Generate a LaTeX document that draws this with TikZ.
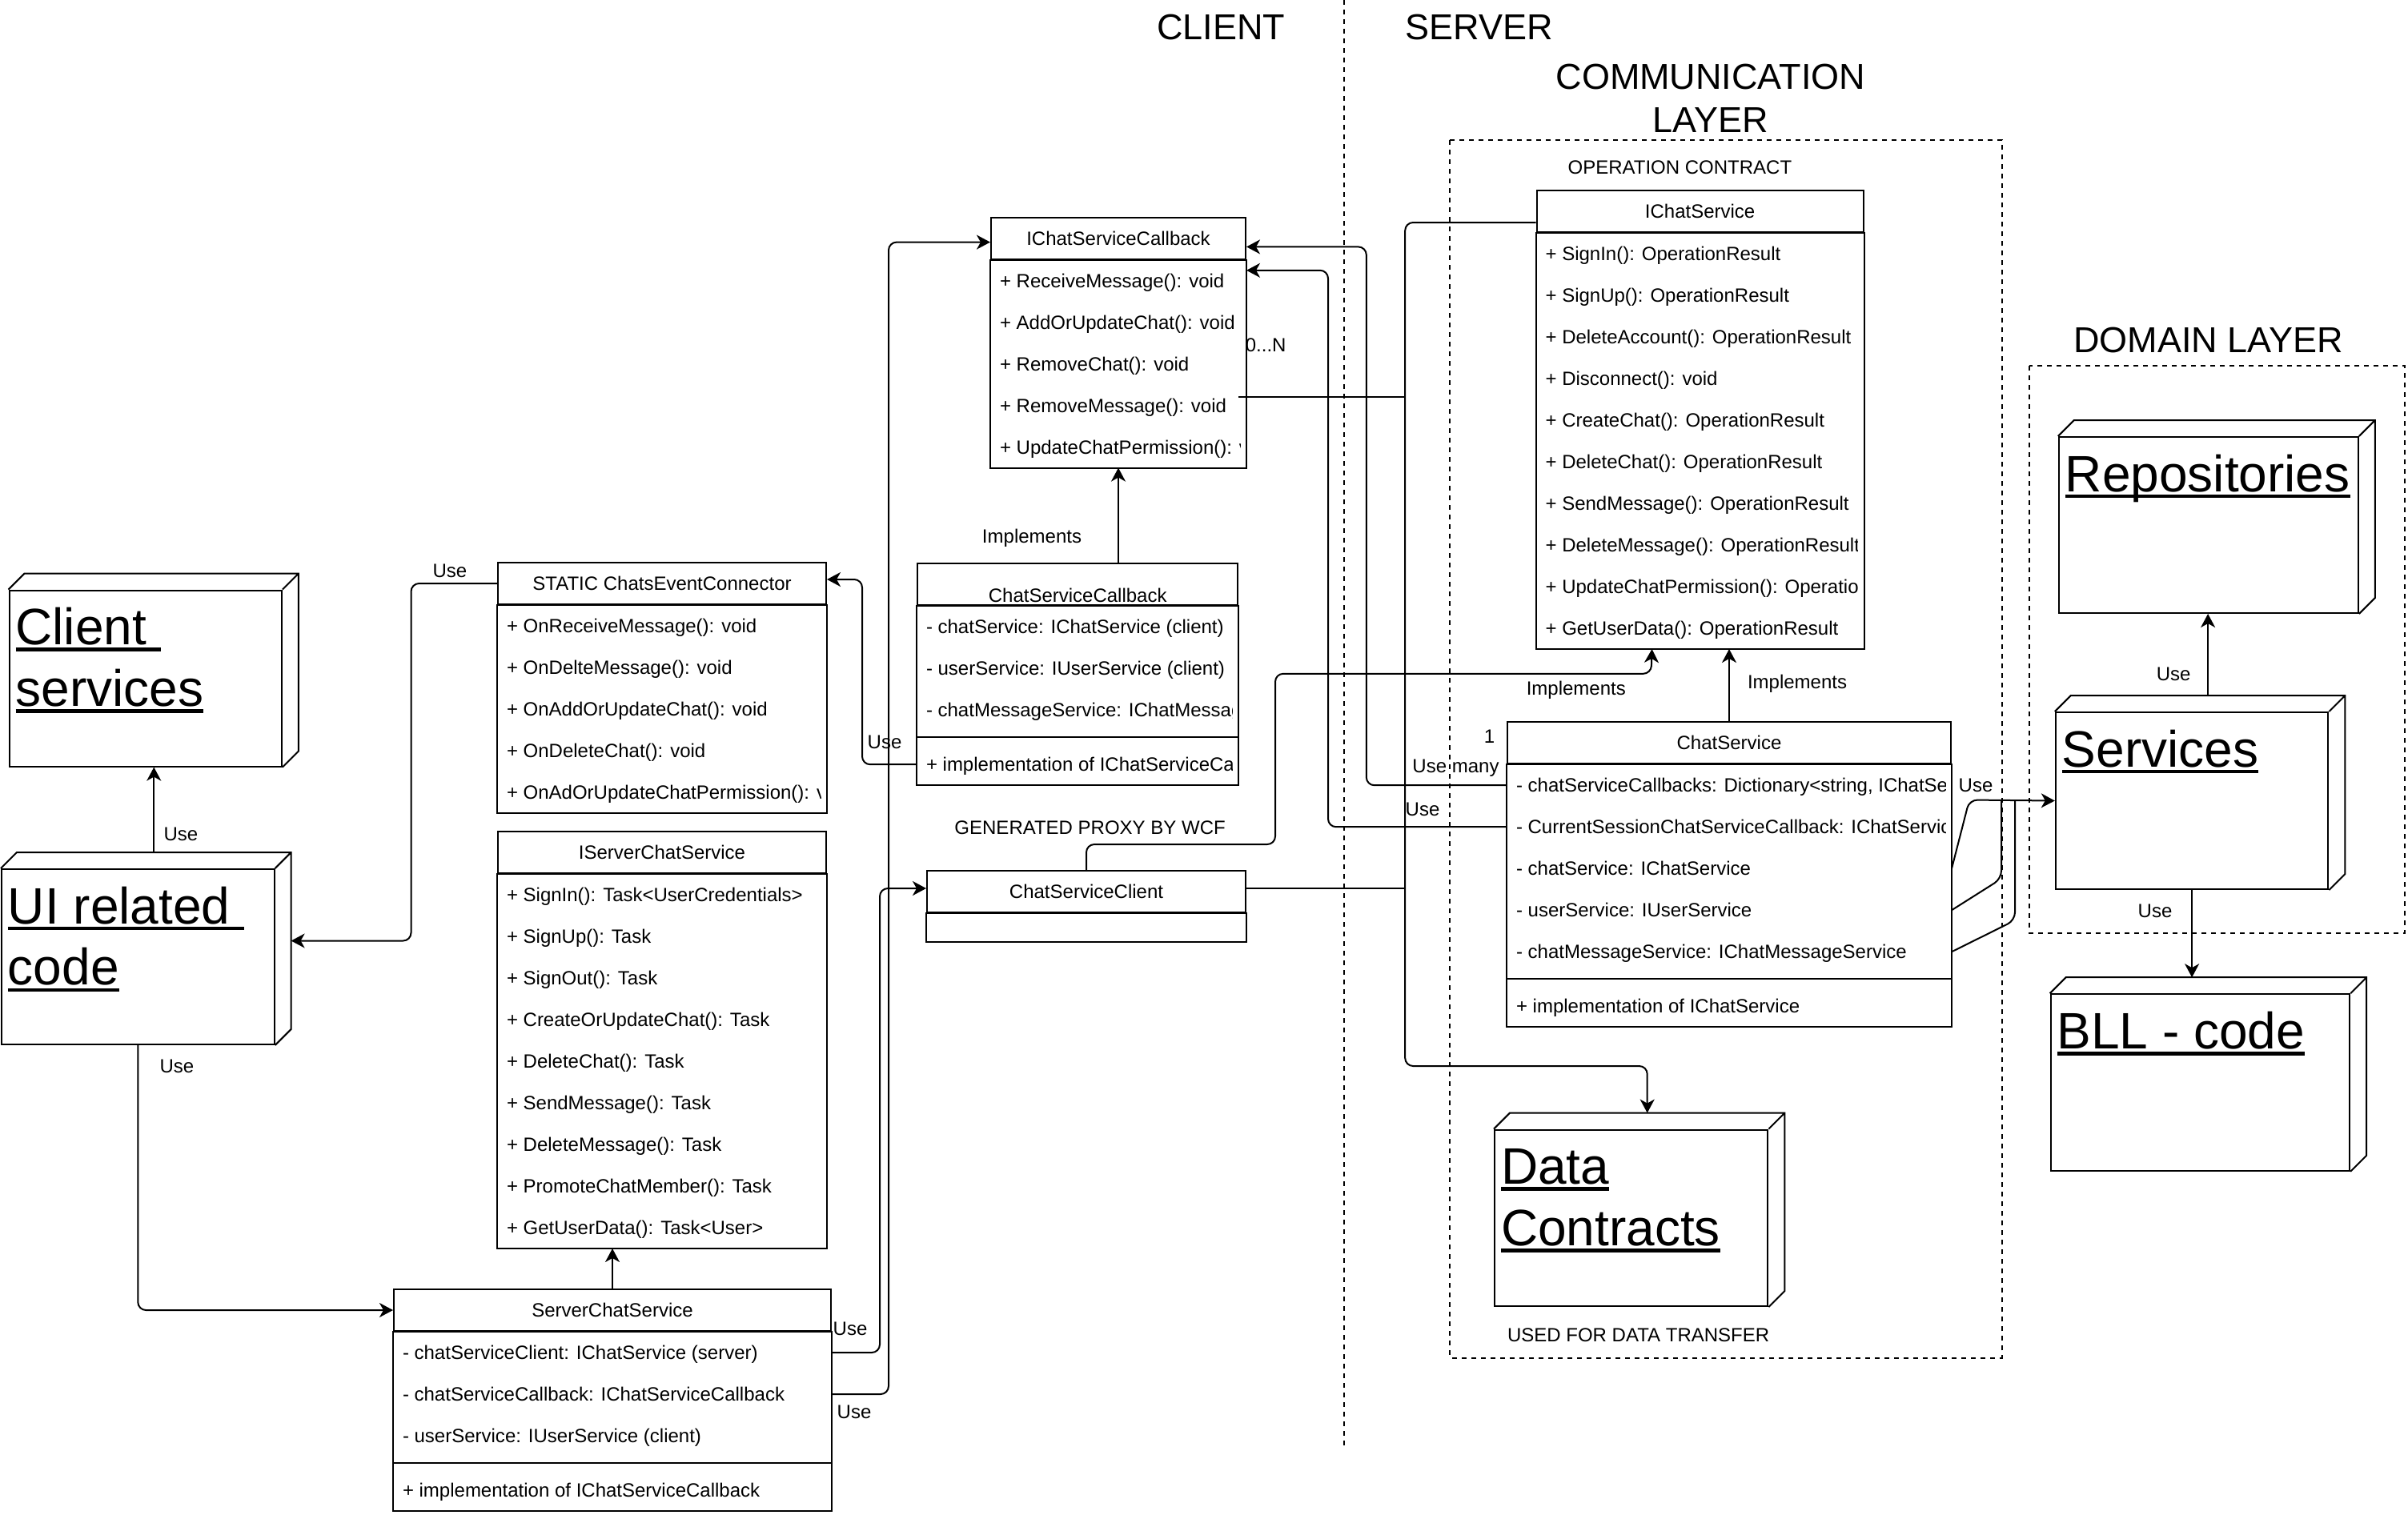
\documentclass[tikz,border=0pt]{standalone}
\usepackage{fontspec}
\setmainfont{Liberation Sans}
\usepackage{tikz}
\usetikzlibrary{arrows.meta}
\tikzset{>={Stealth[length=8.5pt,width=9pt,inset=2.5pt]}}
\tikzset{
	classhead/.style={draw, anchor=north west, minimum height=26pt, inner sep=0pt, text height=8.6pt, text depth=0pt, font=\fontsize{12}{14.4}\selectfont},
	member/.style={anchor=base west, inner sep=0pt, text height=8.6pt, text depth=0pt, font=\fontsize{12}{14.4}\selectfont},
	note/.style={inner sep=0pt, text height=8.6pt, text depth=0pt, font=\fontsize{12}{14.4}\selectfont},
	headline/.style={inner sep=0pt, align=center, font=\fontsize{22.5}{27}\selectfont},
	cubeface/.style={draw, anchor=north west, inner sep=0pt},
	cubelabel/.style={anchor=base west, inner sep=0pt, font=\fontsize{32}{38.4}\selectfont},
	layerbox/.style={draw, dashed},
}
% underlined text
\newcommand{\undl}[1]{\setbox0\hbox{#1}\rlap{\rule[-0.13em]{\wd0}{0.07em}}\box0}
% 3d node: name, front top left, width, height, label
\newcommand{\umlnode}[5]{%
	\node[cubeface, minimum width=#3pt, minimum height=#4pt] (#1) at (#2) {};
	\draw (#1.north west) -- ++(10,-10) -| ([shift={(10,-10)}]#1.south east) -- (#1.south east) (#1.north east) -- ++(10,-10);
	\node[cubelabel] (#1-text) at ([shift={(4,34.5)}]#1.north west) {\begin{tabular}[t]{@{}l@{}}#5\end{tabular}};
}
% class: name, top left, width, title, fields, method
\newcommand{\umlclass}[6]{%
	\node[classhead, minimum width=#3pt] (#1) at (#2) {#4};
	\begin{scope}
		\clip (#1.south west) rectangle ([shift={(-4,600)}]#1.south east);
		\foreach \entry [count=\row] in {#5} {
			\node[member] (#1-\row) at ([shift={(5.5,26*\row-8.7)}]#1.south west) {\entry};
			\coordinate (#1-end) at ([shift={(0,26*\row)}]#1.south east);
		}
	\end{scope}
	\if\relax\detokenize{#6}\relax
		\draw (#1.south west) rectangle (#1-end);
	\else
		\coordinate (#1-sep) at ([shift={(0,4)}]#1-end);
		\coordinate (#1-msw) at (#1-sep -| #1.west);
		\draw (#1.south west) rectangle ([shift={(0,34)}]#1-end);
		\draw (#1-sep) -- (#1-msw);
		\begin{scope}
			\clip (#1-msw) rectangle ([shift={(-4,30)}]#1-sep);
			\node[member] (#1-m) at ([shift={(5.5,21.3)}]#1-msw) {#6};
		\end{scope}
	\fi
}

\begin{document}
\begin{tikzpicture}[x=1pt, y=-1pt, line width=1pt]
		% Canvas
		\fill[white] (0,0) rectangle (1504,946);
		\useasboundingbox (0,0) rectangle (1504,946);

		% Titles
		\node[headline] (client) at (762.5,16.9) {CLIENT};
		\node[headline] (server) at (923.7,16.9) {SERVER};
		\node[headline] (comm) at (1068.4,61.4) {COMMUNICATION\\LAYER};
		\node[headline] (domain) at (1379.4,212.7) {DOMAIN LAYER};
		\node[note] (opcontract) at (1049.2,104.6) {OPERATION CONTRACT};
		\node[note] (proxy) at (680.8,517) {GENERATED PROXY BY WCF};
		\node[note] (transfer) at (1023.3,834) {USED FOR DATA TRANSFER};

		% Borders
		\draw[dashed] (839.4,0) -- (839.4,903.5);
		\draw[layerbox] (905.7,87.7) rectangle (1250.5,848.3);
		\draw[layerbox] (1267.5,228.5) rectangle (1502.2,582.9);

		% Nodes
		\umlnode{csrv}{5.25,368.3}{170.2}{110}{\undl{Client\ }\\\undl{services}}
		\umlnode{ui}{0.5,542.5}{170.3}{109.5}{\undl{UI related\ }\\\undl{code}}
		\umlnode{dc}{933,705.3}{170.7}{110.2}{\undl{Data}\\\undl{Contracts}}
		\umlnode{rep}{1285.4,272.5}{187}{110}{\undl{Repositories}}
		\umlnode{ser}{1283.4,444.5}{170.3}{110.5}{\undl{Services}}
		\umlnode{bll}{1280.3,620.6}{186.8}{110.3}{\undl{BLL - code}}

		% Classes
		\umlclass{cec}{310.5,351}{205}{STATIC ChatsEventConnector}{+ OnReceiveMessage(): void, + OnDelteMessage(): void, + OnAddOrUpdateChat(): void, + OnDeleteChat(): void, + OnAdOrUpdateChatPermission(): void}{}
		\umlclass{iscs}{310.5,519}{205}{IServerChatService}{+ SignIn(): Task<UserCredentials>, + SignUp(): Task, + SignOut(): Task, + CreateOrUpdateChat(): Task, + DeleteChat(): Task, + SendMessage(): Task, + DeleteMessage(): Task, + PromoteChatMember(): Task, + GetUserData(): Task<User>}{}
		\umlclass{scs}{245.5,805}{273}{ServerChatService}{- chatServiceClient: IChatService (server), - chatServiceCallback: IChatServiceCallback, - userService: IUserService (client)}{+ implementation of IChatServiceCallback}
		\umlclass{icscb}{618.5,135.3}{159}{IChatServiceCallback}{+ ReceiveMessage(): void, + AddOrUpdateChat(): void, + RemoveChat(): void, + RemoveMessage(): void, + UpdateChatPermission(): void}{}
		\umlclass{ccb}{572.5,351.6}{200.2}{\raisebox{-7pt}{ChatServiceCallback}}{- chatService: IChatService (client), - userService: IUserService (client), - chatMessageService: IChatMessageService (client)}{+ implementation of IChatServiceCallback}
		\umlclass{icsv}{959.3,118.5}{204}{IChatService}{+ SignIn(): OperationResult, + SignUp(): OperationResult, + DeleteAccount(): OperationResult, + Disconnect(): void, + CreateChat(): OperationResult, + DeleteChat(): OperationResult, + SendMessage(): OperationResult, + DeleteMessage(): OperationResult, + UpdateChatPermission(): OperationResult, + GetUserData(): OperationResult}{}
		\umlclass{chs}{941,450.6}{277}{ChatService}{{- chatServiceCallbacks: Dictionary<string, IChatSe}, - CurrentSessionChatServiceCallback: IChatServiceCallback, - chatService: IChatService, - userService: IUserService, - chatMessageService: IChatMessageService}{+ implementation of IChatService}
		%% Proxy
		\node[classhead, minimum width=199pt] (csc) at (578.5,543.5) {ChatServiceClient};
		\draw (csc.south west) rectangle ([shift={(0,18)}]csc.south east);

		% Client connectors
		\draw[->] ([shift={(10,-10)}]ui.north) coordinate (ui-top) -- (ui-top |- csrv.south);
		\draw[->, rounded corners=5pt] (cec.west) -- ++(-53.75,0) |- ([shift={(10,-10)}]ui.east);
		\draw[->, rounded corners=5pt] (ui.south) |- (scs.west);
		\draw[->] (scs.north) -- (scs.north |- iscs-end);
		\draw[->, rounded corners=5pt] (scs.east |- scs-1) -- ++(30,0) |- ([yshift=2pt]csc.west);
		\draw[->, rounded corners=5pt] (scs.east |- scs-2) -- ++(35.5,0) |- ([yshift=-2.5pt]icscb.west);
		\draw[->, rounded corners=5pt] (ccb.west |- ccb-m) -- ++(-34,0) |- ([yshift=2.5pt]cec.east);
		\draw[->] (ccb.north -| icscb.south) -- (icscb-end -| icscb.south);

		% Server connectors
		\coordinate (icsv-b) at (icsv-end -| icsv.south);
		\coordinate (trunk) at (877.6,666);
		\draw[->, rounded corners=5pt] (csc.north) |- (796.5,527.5) |- (1031.3,420.9) -- ([xshift=-30pt]icsv-b);
		\draw[->] (chs.north) -- (chs.north |- icsv-end);
		\draw[->, rounded corners=5pt] (chs.west |- chs-1) -- ++(-87.6,0) |- ([yshift=-5.4pt]icscb.east);
		\draw[->, rounded corners=5pt] (chs.west |- chs-2) -- ++(-111.5,0) |- ([yshift=-20.1pt]icscb.east);
		\draw[->, rounded corners=5pt] ([yshift=-7pt]icsv.west) -| (trunk) -| ([shift={(10,-10)}]dc.north);
		\draw ([yshift=2pt]csc.east) coordinate (csc-r) -- (csc-r -| trunk);
		\draw ([shift={(-5,99.2)}]icscb.east) coordinate (icscb-r) -- (icscb-r -| trunk);
		%% To domain
		\draw[->, rounded corners=5pt] (chs.east |- chs-3) -- (1230,499.75) -- (ser.west);
		\draw[rounded corners=5pt] (chs.east |- chs-4) -- (1250,549) -- (1250,499.75);
		\draw[rounded corners=5pt] (chs.east |- chs-5) -- (1258.5,575) -- (1258.5,499.75);
		\coordinate (bll-top) at ([shift={(10,-10)}]bll.north);
		\draw[->] ([shift={(10,-10)}]ser.north) coordinate (ser-top) -- (ser-top |- rep.south);
		\draw[->] (ser.south) -- (ser.south |- bll-top);

		% Labels
		\node[note] (use-cs) at (113,521) {Use};
		\node[note] (use-cec) at (281,356.5) {Use};
		\node[note] (use-scs) at (110.5,666) {Use};
		\node[note] (use-csc) at (531,830) {Use};
		\node[note] (use-icscb) at (533.5,882) {Use};
		\node[note] (use-ccb) at (552.5,463.3) {Use};
		\node[note] (impl-ccb) at (644.5,335) {Implements};
		\node[note] (impl-csc) at (984.4,430) {Implements};
		\node[note] (impl-chs) at (1122.5,426) {Implements};
		\node[note] (one) at (930.2,460.1) {1};
		\node[note] (use-many) at (892.9,478.3) {Use};
		\node[note] (many) at (921.6,478.3) {many};
		\node[note] (use-cur) at (888.5,505.6) {Use};
		\node[note] (zero-n) at (790.6,215.2) {0...N};
		\node[note] (use-ser) at (1234,490.5) {Use};
		\node[note] (use-rep) at (1357.6,421) {Use};
		\node[note] (use-bll) at (1346,568.8) {Use};
	\end{tikzpicture}
\end{document}
